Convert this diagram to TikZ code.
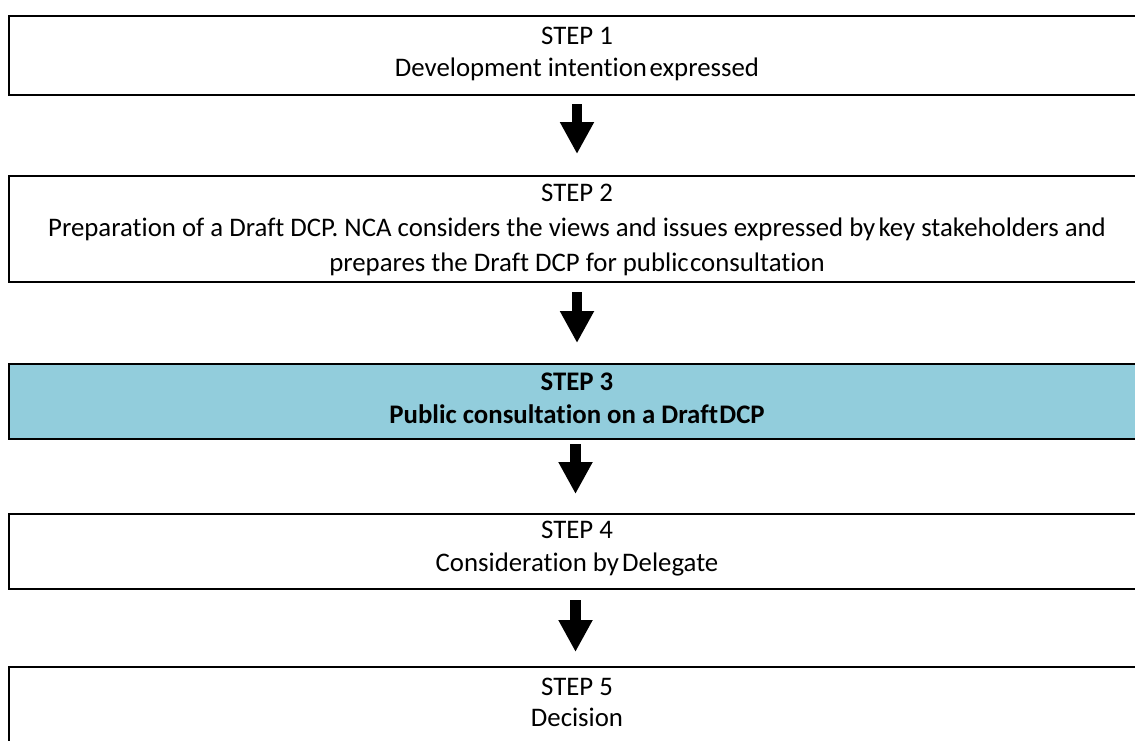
\documentclass[tikz,border=0pt]{standalone}
\usepackage{fontspec}
\setmainfont{Carlito}[Ligatures=NoCommon]
\usetikzlibrary{arrows.meta,calc}
\definecolor{stepblue}{RGB}{146,205,220}
\begin{document}
\begin{tikzpicture}[x=1pt,y=-1pt,
  stepbox/.style={draw=black, line width=2pt, minimum width=1136pt, inner sep=0pt},
  steptext/.style={align=center, inner sep=0pt, font=\fontsize{26.8}{32}\selectfont},
  bigarrow/.style={line width=10.6pt, -{Triangle[width=32pt,length=32pt]}}
]
\useasboundingbox (0,0) rectangle (1135,740);

% the five step boxes
\node[stepbox, minimum height=79pt] (b1) at (577,55.5) {};
\node[stepbox, minimum height=106pt] (b2) at (577,229) {};
\node[stepbox, minimum height=75pt, fill=stepblue] (b3) at (577,401.5) {};
\node[stepbox, minimum height=75pt] (b4) at (577,551.5) {};
\node[stepbox, minimum height=154pt, anchor=north] (b5) at (577,666) {};

% box texts
\node[steptext] (t1) at (577,53.5) {STEP 1\\Development intention\hspace{0.1em}expressed};
\node[steptext, font=\fontsize{26.8}{35}\selectfont] (t2) at (577,229.5) {STEP 2\\Preparation of a Draft DCP. NCA considers the views and issues expressed by\hspace{0.12em}key stakeholders and\\prepares the Draft DCP for public\hspace{0.05em}consultation};
\node[steptext, font=\fontsize{26.8}{33}\selectfont\bfseries] (t3) at (577,398.5) {STEP 3\\Public consultation on a Draft\hspace{0.05em}DCP};
\node[steptext, font=\fontsize{26.8}{33}\selectfont] (t4) at (577,548.5) {STEP 4\\Consideration by\hspace{0.12em}Delegate};
\node[steptext, font=\fontsize{26.8}{31}\selectfont] (t5) at (577,702.5) {STEP 5\\Decision};

% arrows between consecutive steps
\draw[bigarrow] ($(b1.south)+(0,8)$) -- ($(b2.north)+(0,-21)$);
\draw[bigarrow] ($(b2.south)+(0,9)$) -- ($(b3.north)+(0,-20)$);
\draw[bigarrow] ($(b3.south)+(-1.5,4)$) -- ($(b4.north)+(-1.5,-19)$);
\draw[bigarrow] ($(b4.south)+(-1.5,10)$) -- ($(b5.north)+(-1.5,-14)$);
\end{tikzpicture}
\end{document}
